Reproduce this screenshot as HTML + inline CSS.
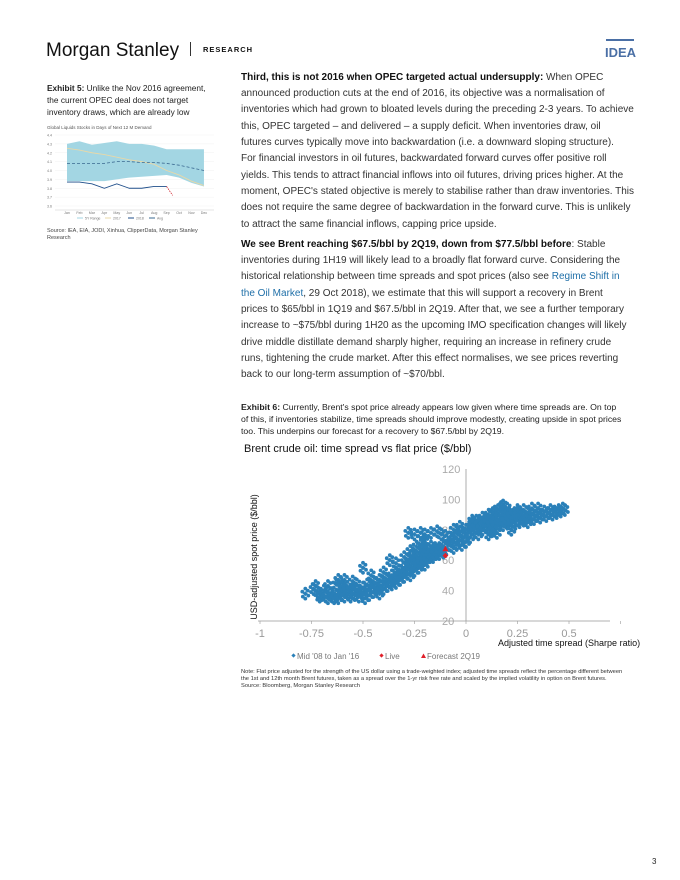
<!DOCTYPE html>
<html><head><meta charset="utf-8"><style>
body{margin:0;background:#fff;}
svg{display:block;font-family:"Liberation Sans",sans-serif;}
.b{font-size:10px;fill:#333;}
.bb{font-weight:bold;fill:#111;}
.lk{fill:#1f6fa8;}
</style></head><body>
<svg width="680" height="880" viewBox="0 0 680 880">
<g>
<text x="46" y="56" font-size="19" fill="#111">Morgan Stanley</text>
<rect x="190" y="42" width="1" height="14" fill="#333"/>
<text x="203" y="52" font-size="7.5" font-weight="bold" letter-spacing="1" fill="#111">RESEARCH</text>
<rect x="606" y="39" width="28" height="2" fill="#4a6fa5"/>
<text x="605" y="57" font-size="13" font-weight="bold" fill="#4a6fa5">IDEA</text>
</g>

<g>
<text font-size="8.3" fill="#222"><tspan x="47" y="91"><tspan font-weight="bold">Exhibit 5:</tspan>  Unlike the Nov 2016 agreement,</tspan><tspan x="47" y="103">the current OPEC deal does not target</tspan><tspan x="47" y="115">inventory draws, which are already low</tspan></text>
<text x="47" y="129" font-size="4.5" fill="#555">Global Liquids Stocks in Days of Next 12 M Demand</text>
<g id="small"></g>
<text font-size="5.5" fill="#444"><tspan x="47" y="232">Source: IEA, EIA, JODI, Xinhua, ClipperData, Morgan Stanley</tspan><tspan x="47" y="239">Research</tspan></text>
</g>

<g class="b">
<text x="241" y="80"><tspan class="bb">Third, this is not 2016 when OPEC targeted actual undersupply:</tspan> When OPEC</text>
<text x="241" y="96">announced production cuts at the end of 2016, its objective was a normalisation of</text>
<text x="241" y="112">inventories which had grown to bloated levels during the preceding 2-3 years. To achieve</text>
<text x="241" y="129">this, OPEC targeted – and delivered – a supply deficit. When inventories draw, oil</text>
<text x="241" y="145">futures curves typically move into backwardation (i.e. a downward sloping structure).</text>
<text x="241" y="161">For financial investors in oil futures, backwardated forward curves offer positive roll</text>
<text x="241" y="178">yields. This tends to attract financial inflows into oil futures, driving prices higher. At the</text>
<text x="241" y="194">moment, OPEC's stated objective is merely to stabilise rather than draw inventories. This</text>
<text x="241" y="210">does not require the same degree of backwardation in the forward curve. This is unlikely</text>
<text x="241" y="227">to attract the same financial inflows, capping price upside.</text>
<text x="241" y="247"><tspan class="bb">We see Brent reaching $67.5/bbl by 2Q19, down from $77.5/bbl before</tspan>: Stable</text>
<text x="241" y="263">inventories during 1H19 will likely lead to a broadly flat forward curve. Considering the</text>
<text x="241" y="279">historical relationship between time spreads and spot prices (also see <tspan class="lk">Regime Shift in</tspan></text>
<text x="241" y="296"><tspan class="lk">the Oil Market</tspan>, 29 Oct 2018), we estimate that this will support a recovery in Brent</text>
<text x="241" y="312">prices to $65/bbl in 1Q19 and $67.5/bbl in 2Q19. After that, we see a further temporary</text>
<text x="241" y="328">increase to ~$75/bbl during 1H20 as the upcoming IMO specification changes will likely</text>
<text x="241" y="345">drive middle distillate demand sharply higher, requiring an increase in refinery crude</text>
<text x="241" y="361">runs, tightening the crude market. After this effect normalises, we see prices reverting</text>
<text x="241" y="377">back to our long-term assumption of ~$70/bbl.</text>
</g>

<g>
<text font-size="8.7" fill="#222"><tspan x="241" y="410"><tspan font-weight="bold">Exhibit 6:</tspan>  Currently, Brent's spot price already appears low given where time spreads are. On top</tspan><tspan x="241" y="422">of this, if inventories stabilize, time spreads should improve modestly, creating upside in spot prices</tspan><tspan x="241" y="434">too. This underpins our forecast for a recovery to $67.5/bbl by 2Q19.</tspan></text>
<text x="244" y="452" font-size="11" fill="#111">Brent crude oil: time spread vs flat price ($/bbl)</text>
</g>
<g id="scatter"></g>
<g font-size="8" fill="#777">
<rect x="292" y="654" width="3" height="3" transform="rotate(45 293.5 655.5)" fill="#2a80b9"/><text x="297" y="659">Mid '08 to Jan '16</text>
<rect x="380" y="654" width="3" height="3" transform="rotate(45 381.5 655.5)" fill="#e0202a"/><text x="385" y="659">Live</text>
<polygon points="421,658 423.5,653.5 426,658" fill="#e0202a"/><text x="427" y="659">Forecast 2Q19</text>
</g>
<text font-size="5.75" fill="#333"><tspan x="241" y="673">Note: Flat price adjusted for the strength of the US dollar using a trade-weighted index; adjusted time spreads reflect the percentage different between</tspan><tspan x="241" y="680">the 1st and 12th month Brent futures, taken as a spread over the 1-yr risk free rate and scaled by the implied volatility in option on Brent futures.</tspan><tspan x="241" y="687">Source: Bloomberg, Morgan Stanley Research</tspan></text>
<text x="652" y="864" font-size="8" fill="#222">3</text>
</svg>
<script>
const NS='http://www.w3.org/2000/svg';
function mk(p,t,a){const e=document.createElementNS(NS,t);for(const k in a)e.setAttribute(k,a[k]);p.appendChild(e);return e;}
// ---- Exhibit 5 small chart data ----
const months=['Jan','Feb','Mar','Apr','May','Jun','Jul','Aug','Sep','Oct','Nov','Dec'];
const rangeHi=[4.30,4.33,4.29,4.31,4.33,4.30,4.30,4.28,4.24,4.24,4.24,4.24];
const rangeLo=[3.88,3.88,3.88,3.88,3.90,3.92,3.93,3.94,3.95,3.92,3.86,3.82];
const s2017=[4.25,4.23,4.20,4.18,4.15,4.12,4.10,4.07,4.00,3.95,3.88,3.83];
const s2018=[3.87,3.87,3.85,3.80,3.85,3.80,3.80,3.82,3.82];
const avg=[4.08,4.08,4.08,4.08,4.10,4.10,4.09,4.09,4.08,4.06,4.03,4.00];
const yTicks5=[3.6,3.7,3.8,3.9,4.0,4.1,4.2,4.3,4.4];
const fx5=i=>67+i*12.45, fy5=v=>206-(v-3.6)*88.75;
(function(){
 const g=document.getElementById('small');
 yTicks5.forEach(v=>{const t=mk(g,'text',{x:52,y:fy5(v)+1.5,'font-size':3.6,fill:'#777','text-anchor':'end'});t.textContent=v.toFixed(1);
  mk(g,'line',{x1:55,x2:214,y1:fy5(v),y2:fy5(v),stroke:'#eee','stroke-width':0.4});});
 let d='M'+rangeHi.map((v,i)=>fx5(i)+','+fy5(v)).join('L')+'L'+rangeLo.map((v,i)=>fx5(i)+','+fy5(v)).reverse().join('L')+'Z';
 const band=mk(g,'path',{d,fill:'#a3d6e3'});
 
 
 const line=(arr,c,w,da,n)=>{const p=mk(g,'polyline',{points:arr.map((v,i)=>fx5(i)+','+fy5(v)).join(' '),fill:'none',stroke:c,'stroke-width':w,'stroke-dasharray':da||'none'});
  
  };
 line(s2017,'#e8d8a8',0.9,null,'line-2017');
 line(avg,'#3a6890',0.8,'3,2','line-avg');
 line(s2018,'#1f4e8a',0.9,null,'line-2018');
 mk(g,'polyline',{points:fx5(8)+','+fy5(3.82)+' '+(fx5(8)+3)+','+fy5(3.77)+' '+(fx5(8)+6)+','+fy5(3.72),fill:'none',stroke:'#d0202a','stroke-width':0.8,'stroke-dasharray':'1.5,1'});
 mk(g,'line',{x1:55,x2:214,y1:210,y2:210,stroke:'#ccc','stroke-width':0.5});
 months.forEach((m,i)=>{const t=mk(g,'text',{x:fx5(i),y:214,'font-size':3.6,fill:'#777','text-anchor':'middle'});t.textContent=m;});
 const lg=[['#a3d6e3','5Y Range',85],['#e8d8a8','2017',113],['#1f4e8a','2018',136],['#3a6890','Avg',157]];
 lg.forEach(([c,n,x])=>{mk(g,'line',{x1:x-8,x2:x-2,y1:218,y2:218,stroke:c,'stroke-width':1});const t=mk(g,'text',{x:x,y:219.5,'font-size':3.5,fill:'#777'});t.textContent=n;});
})();
// ---- Exhibit 6 scatter data ----
const xTicks=[-1,-0.75,-0.5,-0.25,0,0.25,0.5];
const yTicks=[20,40,60,80,100,120];
const histX=[-0.78,-0.74,-0.73,-0.72,-0.71,-0.70,-0.69,-0.68,-0.67,-0.66,-0.65,-0.64,-0.63,-0.62,-0.61,-0.60,-0.60,-0.59,-0.58,-0.57,-0.56,-0.55,-0.55,-0.54,-0.53,-0.53,-0.52,-0.51,-0.50,-0.50,-0.49,-0.48,-0.48,-0.47,-0.46,-0.45,-0.45,-0.44,-0.43,-0.42,-0.42,-0.41,-0.40,-0.40,-0.39,-0.38,-0.37,-0.36,-0.36,-0.35,-0.34,-0.34,-0.33,-0.32,-0.32,-0.31,-0.30,-0.30,-0.29,-0.29,-0.28,-0.28,-0.27,-0.27,-0.26,-0.26,-0.25,-0.25,-0.24,-0.24,-0.23,-0.23,-0.22,-0.22,-0.21,-0.21,-0.20,-0.20,-0.19,-0.19,-0.18,-0.18,-0.17,-0.17,-0.16,-0.16,-0.15,-0.15,-0.14,-0.13,-0.13,-0.12,-0.11,-0.11,-0.10,
-0.28,-0.25,-0.22,-0.20,-0.17,-0.14,-0.12,-0.10,-0.08,-0.34,-0.37,-0.30,-0.40,-0.46,-0.55,-0.59,-0.63,-0.67,-0.62,-0.50,-0.24,-0.27,-0.20,-0.22,
-0.08,-0.07,-0.06,-0.05,-0.05,-0.04,-0.03,-0.02,-0.02,-0.01,0.00,0.00,-0.06,-0.03,
0.01,0.02,0.02,0.03,0.04,0.05,0.05,0.06,0.07,0.08,0.08,0.09,0.10,0.10,0.11,0.12,0.12,0.13,0.14,0.14,0.15,0.15,0.16,0.17,0.17,0.18,0.18,0.19,0.19,0.20,0.20,0.21,0.21,0.22,0.22,0.23,0.24,0.24,0.25,0.26,0.26,0.27,0.28,0.28,0.29,0.30,0.30,0.31,0.32,0.33,0.34,0.35,0.36,0.37,0.38,0.39,0.40,0.41,0.42,0.43,0.44,0.45,0.46,0.47,0.48,0.18,0.20,0.16,0.13,0.09,0.06,0.04,0.03,0.07,0.11,0.13,0.25,0.28,0.32,0.35,0.22,0.15];
const histY=[38,41,43,39,36,37,40,36,35,38,36,35,37,35,39,43,37,36,40,38,36,41,38,37,44,40,36,39,42,38,35,40,44,37,42,39,46,41,44,38,47,43,45,41,48,43,46,50,44,47,52,45,49,53,47,51,55,49,57,52,54,60,50,56,58,63,53,60,57,62,55,65,60,58,63,68,62,57,65,60,67,62,64,69,66,62,68,64,66,68,64,67,69,65,68,
78,77,78,77,78,79,77,76,75,58,60,62,52,50,46,47,44,43,47,55,69,66,72,70,
70,73,68,75,71,77,73,79,70,75,80,72,80,82,
78,82,75,84,79,86,81,77,85,88,80,83,87,82,90,85,79,88,84,92,87,81,90,85,95,88,83,92,86,89,84,91,86,88,83,90,87,84,91,88,85,90,86,89,87,91,85,88,90,87,89,91,88,90,92,89,91,93,90,92,91,93,92,94,93,96,94,93,91,86,83,84,86,81,77,80,93,93,94,94,80,78];
const liveX=[-0.1], liveY=[63];
const fcX=[-0.1], fcY=[67.5];
const fx=v=>466+v*206, fy=v=>621-(v-20)*1.52;
(function(){
 const g=document.getElementById('scatter');
 yTicks.forEach(v=>{const t=mk(g,'text',{x:fx(0)-24,y:fy(v)+4,'font-size':11,fill:'#aaa'});t.textContent=v;
  
  });
 xTicks.forEach(v=>{const t=mk(g,'text',{x:fx(v),y:637,'font-size':11,fill:'#999','text-anchor':'middle'});t.textContent=String(v);
  
  });
 mk(g,'line',{x1:fx(0),x2:fx(0),y1:fy(120),y2:fy(20),stroke:'#999','stroke-width':0.8});
 mk(g,'line',{x1:258,x2:610,y1:fy(20),y2:fy(20),stroke:'#999','stroke-width':0.8});
 [...xTicks,0.75].forEach(v=>mk(g,'line',{x1:fx(v),x2:fx(v),y1:fy(20),y2:fy(20)+3,stroke:'#999','stroke-width':0.6}));
 const pg=mk(g,'g',{fill:'#2a80b9'});
 const offs=[[0,0],[2.5,-3],[-2.5,3],[0,-5],[0,5],[3,2],[-3,-2]];
 histX.forEach((x,i)=>{const cx=fx(x),cy=fy(histY[i]);
  const r=mk(pg,'rect',{x:cx-1.8,y:cy-1.8,width:3.6,height:3.6,transform:`rotate(45 ${cx} ${cy})`});
  
  
  offs.slice(1).forEach(([dx,dy])=>mk(pg,'circle',{cx:cx+dx,cy:cy+dy,r:1.9}));});
 liveX.forEach((x,i)=>{const cx=fx(x),cy=fy(liveY[i]);const r=mk(g,'rect',{x:cx-2,y:cy-2,width:4,height:4,fill:'#e0202a',transform:`rotate(45 ${cx} ${cy})`});
  
  });
 fcX.forEach((x,i)=>{const cx=fx(x),cy=fy(fcY[i]);const p=mk(g,'polygon',{points:`${cx-3},${cy+2.5} ${cx},${cy-3} ${cx+3},${cy+2.5}`,fill:'#e0202a'});
  
  });
 const yt=mk(g,'text',{x:0,y:0,'font-size':9,fill:'#111','text-anchor':'middle',transform:'translate(257,557) rotate(-90)'});yt.textContent='USD-adjusted spot price ($/bbl)';
 
 
 const xt=mk(g,'text',{x:498,y:646,'font-size':9,fill:'#111'});xt.textContent='Adjusted time spread (Sharpe ratio)';
 
 
})();
</script>
</body></html>
